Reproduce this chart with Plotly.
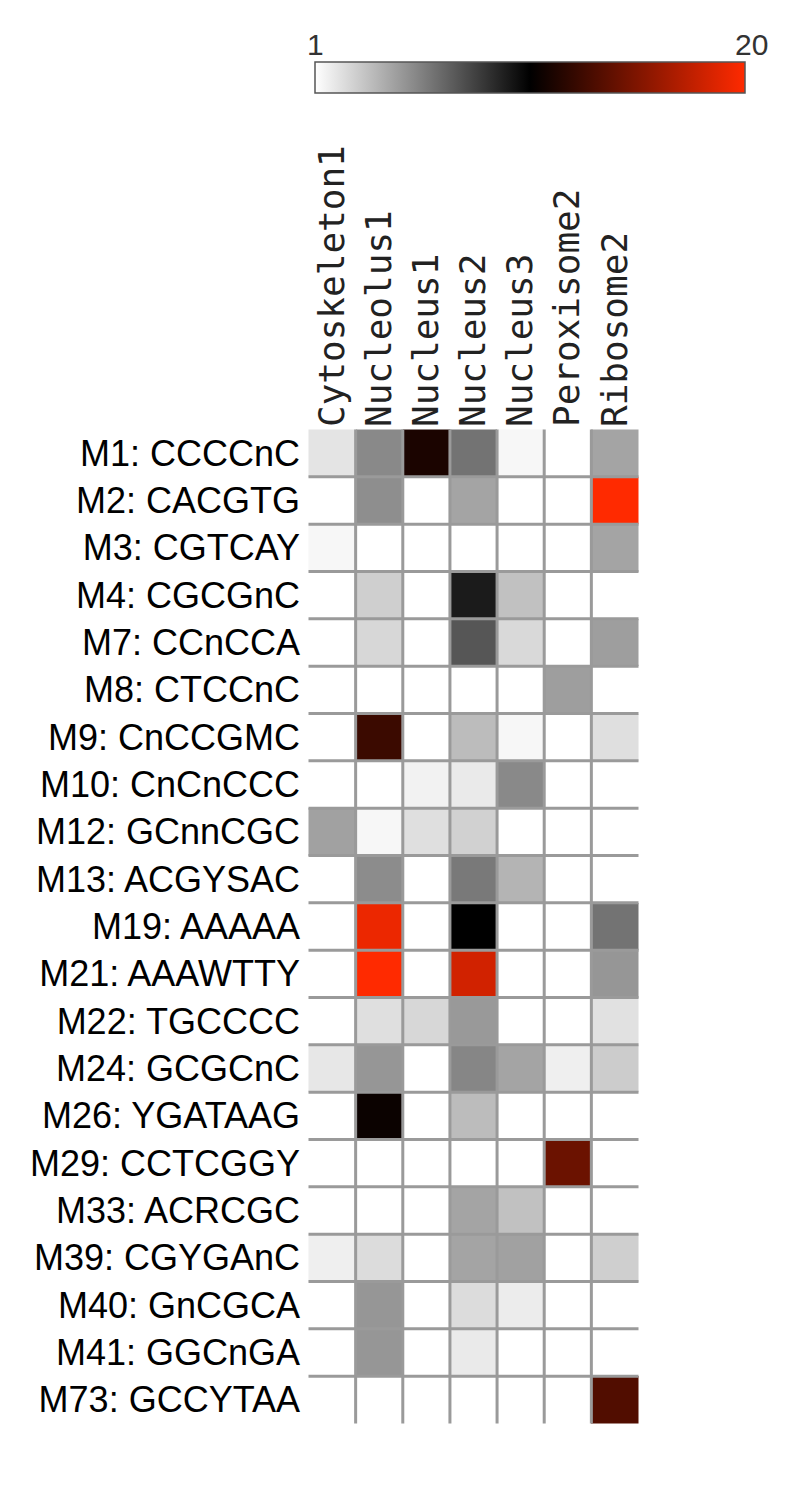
import plotly.graph_objects as go

motifs = [
    "M1: CCCCnC", "M2: CACGTG", "M3: CGTCAY", "M4: CGCGnC", "M7: CCnCCA",
    "M8: CTCCnC", "M9: CnCCGMC", "M10: CnCnCCC", "M12: GCnnCGC", "M13: ACGYSAC",
    "M19: AAAAA", "M21: AAAWTTY", "M22: TGCCCC", "M24: GCGCnC", "M26: YGATAAG",
    "M29: CCTCGGY", "M33: ACRCGC", "M39: CGYGAnC", "M40: GnCGCA", "M41: GGCnGA",
    "M73: GCCYTAA",
]
compartments = ["Cytoskeleton1", "Nucleolus1", "Nucleus1", "Nucleus2",
                "Nucleus3", "Peroxisome2", "Ribosome2"]

# one list per compartment, top row first; None = empty (white) cell
cytoskeleton1 = [2.0, None, 1.3, None, None, None, None, None, 4.5, None, None,
                 None, None, 1.9, None, None, None, 1.6, None, None, None]
nucleolus1 = [5.4, 5.2, None, 2.8, 2.5, None, 12.7, None, 1.3, 5.3, 19.3,
              20.0, 2.2, 4.9, 10.9, None, None, 2.3, 4.9, 4.9, None]
nucleus1 = [11.5, None, None, None, None, None, None, 1.5, 2.2, None, None,
            None, 2.5, None, None, None, None, None, None, None, None]
nucleus2 = [6.2, 4.4, None, 9.5, 7.3, None, 3.5, 1.8, 2.7, 6.0, 10.5,
            18.3, 4.8, 5.5, 3.5, None, 4.4, 4.4, 2.3, 1.8, None]
nucleus3 = [1.3, None, None, 3.3, 2.4, None, 1.3, 5.4, None, 3.8, None,
            None, None, 4.4, None, None, 3.3, 4.5, 1.7, None, None]
peroxisome2 = [None, None, None, None, None, 4.6, None, None, None, None, None,
               None, None, 1.6, None, 14.5, None, None, None, None, None]
ribosome2 = [4.4, 20.0, 4.4, None, 4.6, None, 2.2, None, None, None, 6.2,
             4.9, 2.1, 2.9, None, None, None, 2.8, None, None, 13.5]

columns = [cytoskeleton1, nucleolus1, nucleus1, nucleus2, nucleus3,
           peroxisome2, ribosome2]
z = [list(row) for row in zip(*columns)]

W, H = 785, 1501
OFF = 8  # page body margin
L, T = 307 - OFF, 428 - OFF
pw, ph = 333, 997
R, B = W - L - pw, H - T - ph

# helpers: page pixel position -> paper fraction of the plot area
def px(x):
    return (x - OFF - L) / pw
def py(y):
    return 1 + (T - (y - OFF)) / ph

fig = go.Figure(go.Heatmap(
    z=z, x=compartments, y=motifs,
    zmin=1, zmax=20,
    colorscale=[[0, "#ffffff"], [0.5, "#000000"], [1, "#ff2a00"]],
    hoverongaps=False,
    colorbar=dict(
        orientation="h",
        x=px(315), xanchor="left",
        y=py(62), yanchor="top",
        len=430, lenmode="pixels",
        thickness=31, thicknessmode="pixels",
        xpad=0, ypad=0,
        outlinewidth=1.5, outlinecolor="#555555",
        showticklabels=False, ticks="",
    ),
))

# grey separators between cells (no outer border)
grid = dict(type="line", line=dict(color="#9a9a9a", width=3), layer="above")
for i in range(1, len(compartments)):
    fig.add_shape(x0=i - 0.5, x1=i - 0.5, y0=-0.5, y1=len(motifs) - 0.5, **grid)
for j in range(1, len(motifs)):
    fig.add_shape(x0=-0.5, x1=len(compartments) - 0.5, y0=j - 0.5, y1=j - 0.5, **grid)

# colour bar end labels, placed above the bar
for text, x in [("1", 315), ("20", 751)]:
    fig.add_annotation(text=text, x=px(x), y=py(45), xref="paper", yref="paper",
                       showarrow=False, xanchor="center", yanchor="middle",
                       font=dict(family="Liberation Sans", size=30, color="#333333"))

fig.update_layout(
    width=W, height=H,
    margin=dict(l=L, r=R, t=T, b=B, autoexpand=False),
    paper_bgcolor="white", plot_bgcolor="white",
    showlegend=False,
)
fig.update_xaxes(side="top", tickangle=-90, ticks="", showgrid=False,
                 zeroline=False, showline=False, ticklabelstandoff=0,
                 automargin=False,
                 tickfont=dict(family="DejaVu Sans Mono", size=36, color="#222222"))
fig.update_yaxes(autorange="reversed", ticks="", showgrid=False,
                 zeroline=False, showline=False, ticklabelstandoff=6,
                 automargin=False,
                 tickfont=dict(family="Liberation Sans", size=36, color="#000000"))

fig.write_html("out.html")
